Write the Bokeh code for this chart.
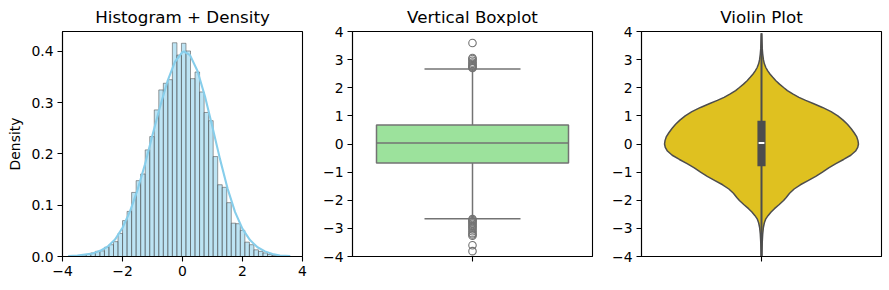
import numpy as np
from bokeh.plotting import figure
from bokeh.layouts import row
from bokeh.models import FixedTicker, Range1d, PrintfTickFormatter
from bokeh.embed import file_html
from bokeh.resources import INLINE

# ---------------- data ----------------
titles = ["Histogram + Density", "Vertical Boxplot", "Violin Plot"]

# histogram: 49 equal-width bins starting at the sample minimum
hist_start = -3.81
hist_width = 0.151
hist_density = [0.001, 0.001, 0.002, 0.003, 0.004, 0.007, 0.010, 0.011, 0.018, 0.023,
                0.029, 0.045, 0.070, 0.088, 0.125, 0.148, 0.161, 0.208, 0.234, 0.286,
                0.325, 0.338, 0.345, 0.417, 0.393, 0.416, 0.401, 0.347, 0.360, 0.321,
                0.281, 0.265, 0.195, 0.140, 0.135, 0.105, 0.065, 0.064, 0.051, 0.028,
                0.023, 0.013, 0.010, 0.007, 0.004, 0.002, 0.001, 0.000, 0.001]

# density curve
kde_x = [-3.81, -3.5, -3.25, -3.0, -2.75, -2.5, -2.25, -2.0, -1.75, -1.5, -1.25, -1.0,
         -0.75, -0.5, -0.25, 0.0, 0.05, 0.25, 0.5, 0.75, 1.0, 1.25, 1.5, 1.75, 2.0,
         2.25, 2.5, 2.75, 3.0, 3.25, 3.59]
kde_y = [0.001, 0.002, 0.004, 0.006, 0.011, 0.019, 0.033, 0.056, 0.088, 0.130, 0.180, 0.237,
         0.292, 0.342, 0.380, 0.399, 0.400, 0.393, 0.362, 0.312, 0.252, 0.190, 0.133, 0.087, 0.054,
         0.032, 0.018, 0.010, 0.005, 0.002, 0.001]

# boxplot statistics
box_q1, box_median, box_q3 = -0.672, 0.038, 0.678
box_whisker_low, box_whisker_high = -2.66, 2.665
box_outliers = [2.70, 2.73, 2.76, 2.80, 2.85, 2.90, 2.96, 3.02, 3.06, 3.59,
                -2.67, -2.70, -2.74, -2.78, -2.83, -2.88, -2.93, -2.98, -3.04, -3.10,
                -3.17, -3.22, -3.26, -3.60, -3.81]

# violin outline: value -> half width (category width units)
violin_y = [3.94, 3.8, 3.6, 3.4, 3.2, 3.0, 2.85, 2.72, 2.6, 2.48, 2.37, 2.25, 2.13, 2.01,
            1.9, 1.78, 1.66, 1.55, 1.43, 1.30, 1.15, 1.0, 0.85, 0.7, 0.55, 0.4, 0.25, 0.12,
            0.0, -0.12, -0.25, -0.4, -0.55, -0.7, -0.85, -1.0, -1.15, -1.3, -1.45, -1.6,
            -1.75, -1.9, -2.01, -2.15, -2.3, -2.42, -2.54, -2.66, -2.8, -2.96, -3.2, -3.5,
            -3.8, -4.2]
violin_half = [0.000, 0.001, 0.002, 0.003, 0.005, 0.008, 0.012, 0.018, 0.026, 0.036, 0.047,
               0.060, 0.075, 0.092, 0.108, 0.130, 0.156, 0.184, 0.218, 0.254, 0.290, 0.318,
               0.340, 0.358, 0.373, 0.386, 0.397, 0.402, 0.404, 0.401, 0.392, 0.372, 0.342,
               0.310, 0.280, 0.254, 0.226, 0.194, 0.162, 0.136, 0.117, 0.103, 0.092, 0.074,
               0.054, 0.040, 0.028, 0.018, 0.012, 0.008, 0.005, 0.003, 0.002, 0.001]
violin_q1, violin_median, violin_q3 = -0.79, 0.04, 0.83
violin_whisker_low, violin_whisker_high = -4.2, 3.94

hist_x_ticks = [-4, -2, 0, 2, 4]
hist_y_ticks = [0.0, 0.1, 0.2, 0.3, 0.4]
value_ticks = [-4, -3, -2, -1, 0, 1, 2, 3, 4]

FONT = "DejaVu Sans"
TICK_SIZE = "13.9px"


def minus(v):
    return str(v).replace("-", "\u2212")


def make_fig(title, xr, yr, left, right):
    p = figure(frame_width=240, frame_height=225, x_range=xr, y_range=yr,
               min_border_left=left, min_border_right=right, min_border_top=31,
               min_border_bottom=34, title=title, output_backend="svg",
               toolbar_location=None)
    p.title.text_font = FONT
    p.title.text_font_size = "16.7px"
    p.title.text_font_style = "normal"
    p.title.align = "center"
    p.title.text_color = "black"
    p.title.standoff = 9
    p.grid.visible = False
    p.outline_line_color = "black"
    p.outline_line_width = 1.1
    p.outline_line_alpha = 1
    p.background_fill_color = "white"
    p.border_fill_color = "white"
    for ax in (p.xaxis, p.yaxis):
        ax.major_tick_out = 5
        ax.major_tick_in = 0
        ax.minor_tick_out = 0
        ax.minor_tick_in = 0
        ax.axis_line_color = "black"
        ax.axis_line_width = 1.1
        ax.major_tick_line_color = "black"
        ax.major_tick_line_width = 1.1
        ax.major_label_text_font = FONT
        ax.major_label_text_font_size = TICK_SIZE
        ax.major_label_text_color = "black"
        ax.major_label_standoff = 4
    return p


# ---------------- panel 1: histogram + density ----------------
p1 = make_fig(titles[0], Range1d(-4, 4), Range1d(0, 0.439), 62, 10)
lefts = [hist_start + hist_width * i for i in range(len(hist_density))]
rights = [l + hist_width for l in lefts]
p1.quad(left=lefts, right=rights, top=hist_density, bottom=0,
        fill_color="#87CEEB", fill_alpha=0.55, line_color="#4a4a4a", line_alpha=0.55, line_width=1)
p1.line(kde_x, kde_y, line_color="#87CEEB", line_width=2.1)
p1.xaxis.ticker = FixedTicker(ticks=hist_x_ticks)
p1.xaxis.major_label_overrides = {t: minus(t) for t in hist_x_ticks}
p1.yaxis.ticker = FixedTicker(ticks=hist_y_ticks)
p1.yaxis.formatter = PrintfTickFormatter(format="%.1f")
p1.yaxis.axis_label = "Density"
p1.yaxis.axis_label_text_font = FONT
p1.yaxis.axis_label_text_font_size = TICK_SIZE
p1.yaxis.axis_label_text_font_style = "normal"
p1.yaxis.axis_label_text_color = "black"
p1.yaxis.axis_label_standoff = 5

# ---------------- panel 2: boxplot ----------------
BOX_LINE = "#737373"
p2 = make_fig(titles[1], Range1d(-0.5, 0.5), Range1d(-4, 4), 40, 9)
p2.segment(x0=[0, 0], y0=[box_q3, box_q1], x1=[0, 0], y1=[box_whisker_high, box_whisker_low],
           line_color=BOX_LINE, line_width=1.5)
p2.segment(x0=[-0.2, -0.2], y0=[box_whisker_high, box_whisker_low], x1=[0.2, 0.2],
           y1=[box_whisker_high, box_whisker_low], line_color=BOX_LINE, line_width=1.5)
p2.vbar(x=[0], width=0.8, top=[box_q3], bottom=[box_q1], fill_color="#9ce29c",
        line_color=BOX_LINE, line_width=1.5)
p2.segment(x0=[-0.4], y0=[box_median], x1=[0.4], y1=[box_median], line_color=BOX_LINE, line_width=1.5)
p2.scatter(x=[0] * len(box_outliers), y=box_outliers, marker="circle", size=7.5,
           fill_color=None, line_color=BOX_LINE, line_width=1.1)

# ---------------- panel 3: violin ----------------
VIO_LINE = "#4d4d4d"
p3 = make_fig(titles[2], Range1d(-0.5, 0.5), Range1d(-4, 4), 40, 8)
vx = [-h for h in violin_half] + [h for h in violin_half[::-1]]
vy = list(violin_y) + list(violin_y[::-1])
p3.patch(vx, vy, fill_color="#dfc120", line_color=VIO_LINE, line_width=1.5)
p3.segment(x0=[0], y0=[violin_whisker_low], x1=[0], y1=[violin_whisker_high],
           line_color=VIO_LINE, line_width=2)
p3.vbar(x=[0], width=0.034, top=[violin_q3], bottom=[violin_q1], fill_color=VIO_LINE, line_color=None)
p3.segment(x0=[-0.012], y0=[violin_median], x1=[0.012], y1=[violin_median],
           line_color="white", line_width=2)

for p in (p2, p3):
    p.xaxis.ticker = FixedTicker(ticks=[0])
    p.xaxis.major_label_overrides = {0: ""}
    p.yaxis.ticker = FixedTicker(ticks=value_ticks)
    p.yaxis.major_label_overrides = {t: minus(t) for t in value_ticks}

layout = row(p1, p2, p3)
open("out.html", "w").write(file_html(layout, INLINE))
